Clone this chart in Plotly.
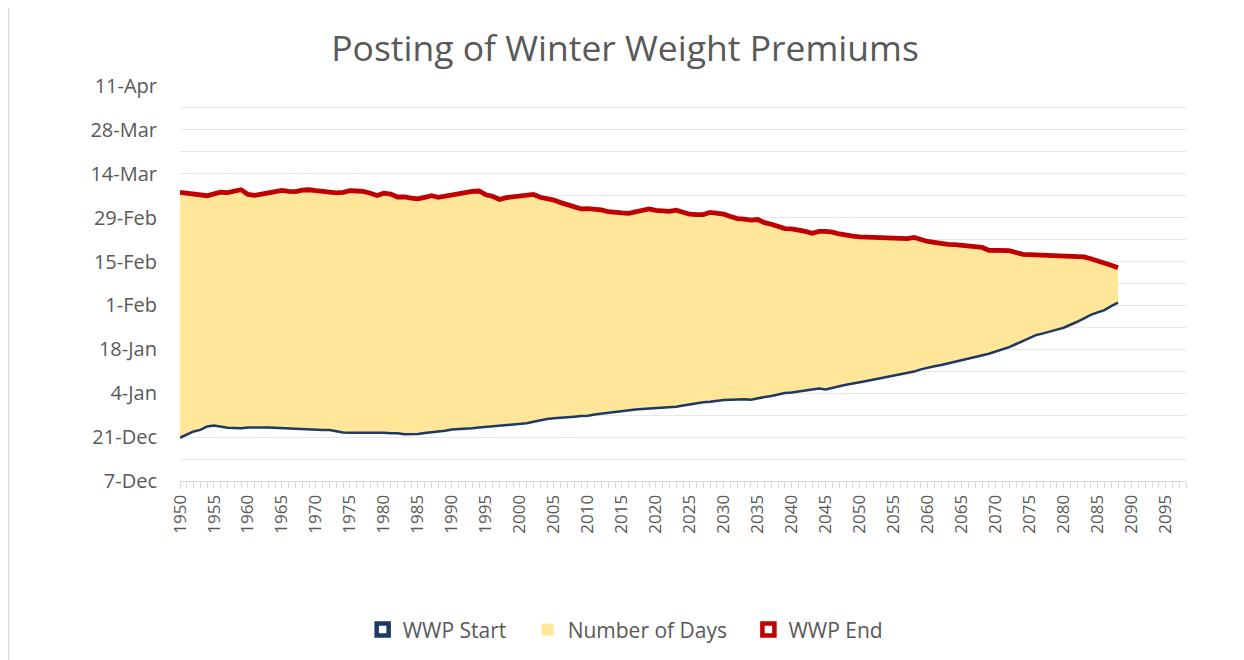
import plotly.graph_objects as go

# Years (category axis) and values, in days relative to 1-Jan (1-Jan = 0)
years = list(range(1950, 2089))

wwp_end = [
    67.1, 66.8, 66.4, 66.3, 66.0, 66.6, 67.1, 67.0, 67.6, 67.9,
    66.4, 66.1, 66.5, 66.8, 67.3, 67.7, 67.4, 67.3, 67.8, 67.9,
    67.6, 67.4, 67.2, 66.9, 67.1, 67.6, 67.5, 67.4, 66.8, 66.1,
    66.8, 66.5, 65.6, 65.6, 65.2, 65.0, 65.5, 66.0, 65.5, 65.9,
    66.3, 66.6, 67.0, 67.4, 67.5, 66.3, 65.8, 64.8, 65.4, 65.6,
    65.8, 66.0, 66.4, 65.5, 65.1, 64.6, 63.8, 63.2, 62.6, 61.8,
    61.9, 61.8, 61.5, 60.9, 60.6, 60.5, 60.4, 60.9, 61.3, 61.8,
    61.3, 61.1, 61.0, 61.4, 60.6, 60.1, 60.0, 60.0, 60.7, 60.5,
    60.1, 59.4, 58.7, 58.5, 58.2, 58.4, 57.4, 56.9, 56.2, 55.5,
    55.4, 55.1, 54.6, 54.0, 54.6, 54.6, 54.4, 53.8, 53.3, 53.1,
    52.9, 52.8, 52.6, 52.4, 52.4, 52.3, 52.2, 52.3, 52.7, 52.0,
    51.4, 51.1, 50.7, 50.5, 50.4, 50.1, 49.9, 49.8, 49.5, 48.6,
    48.5, 48.5, 48.5, 47.9, 47.3, 47.2, 47.1, 47.2, 47.0, 47.1,
    46.8, 46.6, 46.6, 46.5, 45.9, 45.3, 44.6, 43.8, 43.0,
]

wwp_start = [
    -11.2, -10.3, -9.2, -8.7, -7.6, -7.3, -7.7, -8.0, -8.1, -8.2,
    -7.9, -8.0, -7.9, -7.9, -8.0, -8.2, -8.4, -8.4, -8.5, -8.6,
    -8.6, -8.7, -8.7, -9.1, -9.5, -9.6, -9.6, -9.5, -9.5, -9.7,
    -9.6, -9.8, -9.8, -10.1, -10.1, -10.0, -9.7, -9.5, -9.2, -9.0,
    -8.6, -8.5, -8.2, -8.2, -7.9, -7.7, -7.6, -7.4, -7.2, -6.9,
    -6.6, -6.6, -6.1, -5.6, -5.2, -5.0, -4.9, -4.7, -4.5, -4.3,
    -4.2, -3.8, -3.5, -3.2, -3.0, -2.7, -2.5, -2.2, -2.0, -1.9,
    -1.8, -1.6, -1.5, -1.3, -0.9, -0.5, -0.1, 0.1, 0.3, 0.6,
    0.8, 0.9, 1.0, 1.1, 0.9, 1.4, 1.8, 2.1, 2.6, 3.1,
    3.2, 3.5, 3.9, 4.3, 4.5, 4.2, 4.6, 5.2, 5.7, 6.2,
    6.5, 6.9, 7.3, 7.9, 8.2, 8.5, 8.9, 9.3, 9.9, 10.6,
    11.2, 11.6, 12.0, 12.5, 13.0, 13.5, 14.0, 14.5, 15.0, 15.6,
    16.3, 17.0, 17.7, 18.7, 19.7, 20.8, 21.6, 22.1, 22.6, 23.3,
    23.9, 24.8, 25.8, 26.9, 28.0, 28.8, 29.5, 30.8, 31.9,
]

# Y axis ticks (days relative to 1-Jan) and their labels
y_tick_vals = [-25, -11, 3, 17, 31, 45, 59, 73, 87, 101]
y_tick_labels = ["7-Dec", "21-Dec", "4-Jan", "18-Jan", "1-Feb", "15-Feb",
                 "29-Feb", "14-Mar", "28-Mar", "11-Apr"]

# weekly grid: labelled every second tick
grid_vals = list(range(-25, 102, 7))
grid_text = [y_tick_labels[y_tick_vals.index(v)] if v in y_tick_vals else "" for v in grid_vals]

NAVY = "#1F3864"
RED = "#C00000"
FILL = "#FFE699"
GREY_TXT = "#595959"
FONT = "'Open Sans', Lato, sans-serif"
PAD = "\u00a0\u00a0\u00a0"

fig = go.Figure()

# base (invisible) + filled band
fig.add_trace(go.Scatter(x=years, y=wwp_start, mode="lines", line=dict(width=0),
                         showlegend=False, hoverinfo="skip"))
fig.add_trace(go.Scatter(x=years, y=wwp_end, mode="lines", line=dict(width=0),
                         fill="tonexty", fillcolor=FILL, showlegend=False,
                         name="Number of Days"))
# lines
fig.add_trace(go.Scatter(x=years, y=wwp_start, mode="lines",
                         line=dict(color=NAVY, width=2.5), showlegend=False,
                         name="WWP Start"))
fig.add_trace(go.Scatter(x=years, y=wwp_end, mode="lines",
                         line=dict(color=RED, width=4.8), showlegend=False,
                         name="WWP End"))

# legend entries
fig.add_trace(go.Scatter(x=[None], y=[None], mode="markers", name="WWP Start" + PAD,
                         marker=dict(symbol="square", size=12, color="white",
                                     line=dict(color=NAVY, width=4.5))))
fig.add_trace(go.Scatter(x=[None], y=[None], mode="markers", name="Number of Days" + PAD,
                         marker=dict(symbol="square", size=12, color=FILL,
                                     line=dict(width=0))))
fig.add_trace(go.Scatter(x=[None], y=[None], mode="markers", name="WWP End",
                         marker=dict(symbol="square", size=12, color="white",
                                     line=dict(color=RED, width=4.5))))

# page body adds an 8px offset, so margins are reduced accordingly
fig.update_layout(
    width=1244, height=660,
    margin=dict(l=172, r=66, t=78, b=187),
    paper_bgcolor="white", plot_bgcolor="white",
    font=dict(family=FONT, color=GREY_TXT),
    title=dict(text="Posting of Winter Weight Premiums", x=0.496, xanchor="center",
               y=0.939, yref="container", yanchor="middle",
               font=dict(size=35.5, color=GREY_TXT, family=FONT)),
    legend=dict(orientation="h", x=0.443, xanchor="center", y=-0.377, yanchor="middle",
                font=dict(size=21, color=GREY_TXT), itemwidth=30,
                traceorder="normal", bgcolor="rgba(0,0,0,0)"),
    showlegend=True,
    shapes=[dict(type="line", xref="paper", yref="paper",
                 x0=-0.1705, x1=-0.1705, y0=-0.47, y1=1.24,
                 line=dict(color="#D9D9D9", width=1.5))],
)

fig.update_xaxes(
    range=[1950, 2098], tickmode="linear", tick0=1950, dtick=5,
    tickangle=-90, tickfont=dict(size=17, color=GREY_TXT),
    showgrid=False, zeroline=False,
    showline=True, linecolor="#D9D9D9", linewidth=1,
    ticks="outside", ticklen=6, tickcolor="#D9D9D9",
    minor=dict(dtick=1, tick0=1950, ticks="outside", ticklen=6, tickcolor="#D9D9D9"),
)

fig.update_yaxes(
    range=[-25, 101], tickmode="array", tickvals=grid_vals, ticktext=grid_text,
    tickfont=dict(size=20, color=GREY_TXT),
    showgrid=True, gridcolor="#E7E7E7", gridwidth=1,
    zeroline=False, showline=False, ticks="", ticklabelstandoff=22,
)

fig.write_html("out.html")
